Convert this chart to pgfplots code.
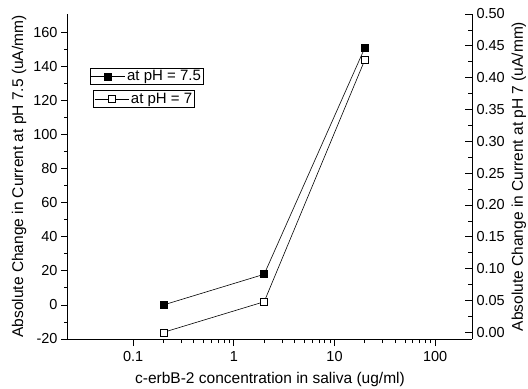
\documentclass[border=0pt]{standalone}
\usepackage{fontspec}
\setmainfont{Liberation Sans}
\usepackage{pgfplots}
\pgfplotsset{compat=1.18}
\pgfplotsset{
  legend image code/.code={\draw[mark repeat=2,mark phase=2,#1] plot coordinates {(0bp,0bp) (17bp,0bp) (34bp,0bp)};},
}

\begin{document}
\begin{tikzpicture}
\begin{axis}[
  width=404bp, height=325bp, scale only axis,
  xmode=log, xmin=0.0225, xmax=232,
  axis x line=bottom, axis y line=left,
  axis line style={-, line width=1bp},
  major tick length=7bp, minor tick length=4bp,
  every tick/.style={line width=0.8bp, black},
  tick label style={font=\fontsize{14.5bp}{17bp}\selectfont},
  xticklabel style={yshift=-2bp},
  label style={font=\fontsize{15.5bp}{18bp}\selectfont},
  xlabel style={yshift=-4bp},
  legend style={font=\fontsize{15bp}{18bp}\selectfont, draw=black, line width=0.8bp,
    inner sep=0.5bp, outer sep=0pt, anchor=north west, row sep=0pt, at={(0.0545,0.834)}},
  legend cell align=left,
  ymin=-20, ymax=170.8,
  ytick={-20,0,20,40,60,80,100,120,140,160},
  yticklabels={-20,0,20,40,60,80,100,120,140,160},
  minor y tick num=1,
  xtick={0.1,1,10,100}, xticklabels={0.1,1,10,100},
  tick align=outside,
  ylabel={Absolute Change in Current at pH 7.5 (uA/mm)},
  xlabel={c-erbB-2 concentration in saliva (ug/ml)},
]
\addplot[black, line width=0.6bp, mark=square*, mark size=3.5bp, mark options={solid, fill=black}]
  coordinates {(0.2,0) (2,18) (20,151)};
\addlegendentry{at pH = 7.5}
\coordinate (sw) at (rel axis cs:0,0);
\end{axis}
\begin{axis}[
  width=404bp, height=325bp, scale only axis,
  xmode=log, xmin=0.0225, xmax=232,
  axis x line=none, axis y line=right,
  axis line style={-, line width=1bp},
  major tick length=7bp, minor tick length=4bp,
  every tick/.style={line width=0.8bp, black},
  tick label style={font=\fontsize{14.5bp}{17bp}\selectfont},
  yticklabel style={xshift=1bp},
  label style={font=\fontsize{15.5bp}{18bp}\selectfont},
  legend style={font=\fontsize{15bp}{18bp}\selectfont, draw=black, line width=0.8bp,
    inner sep=0.5bp, outer sep=0pt, anchor=north west, row sep=0pt, at={(0.064,0.764)}},
  legend cell align=left,
  ymin=-0.0105, ymax=0.5,
  ytick={0,0.05,0.1,0.15,0.2,0.25,0.3,0.35,0.4,0.45,0.5},
  yticklabels={0.00,0.05,0.10,0.15,0.20,0.25,0.30,0.35,0.40,0.45,0.50},
  minor y tick num=1,
  tick align=inside,
  ylabel={Absolute Change in Current at pH 7 (uA/mm)},
]
\addplot[black, line width=0.6bp, mark=square*, mark size=3.5bp, mark options={solid, fill=white}]
  coordinates {(0.2,0) (2,0.048) (20,0.428)};
\addlegendentry{at pH = 7}
\end{axis}
\pgfresetboundingbox
\path[use as bounding box] (sw) ++(-68bp,-50bp) rectangle ++(528bp,389bp);
\end{tikzpicture}
\end{document}
